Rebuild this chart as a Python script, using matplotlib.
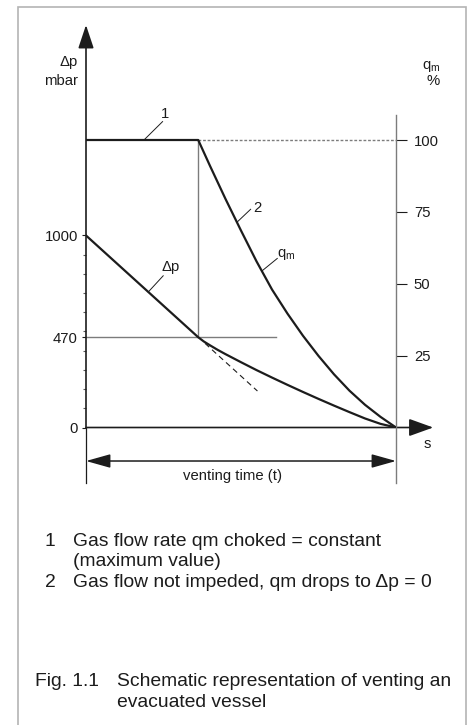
import matplotlib
matplotlib.use("Agg")
import matplotlib.pyplot as plt
from matplotlib.patches import Rectangle

plt.rcParams['font.family'] = ['Liberation Sans', 'DejaVu Sans']
plt.rcParams['mathtext.fontset'] = 'custom'
plt.rcParams['mathtext.rm'] = 'Liberation Sans'
plt.rcParams['mathtext.it'] = 'Liberation Sans'

# ---- data (time in % of venting time) ----
time_dp = [0, 36.2, 38, 40, 42.5, 45, 50, 55, 60, 65, 70, 75, 80, 85, 90, 95, 100]
dp_vals = [1000, 470, 448, 428, 404, 382, 340, 299, 260, 222, 185, 149, 114, 80, 47, 19, 0]

time_qm = [0, 36.2, 40, 45, 50, 55, 60, 65, 70, 75, 80, 85, 90, 95, 100]
qm_vals = [100, 100, 91, 79.5, 68.5, 57.8, 48, 39.6, 31.9, 24.9, 18.5, 12.8, 7.9, 3.7, 0]

t_knee = 36.2
dp_knee = 470
tangent_t = [38.4, 55.3]
tangent_dp = [438, 190]

dp_ticks = [0, 470, 1000]
dp_minor = [100, 200, 300, 400, 500, 600, 700, 800, 900]
qm_ticks = [25, 50, 75, 100]

legend_lines = [("1", "Gas flow rate qm choked = constant"),
                ("", "(maximum value)"),
                ("2", "Gas flow not impeded, qm drops to \u0394p = 0")]
caption = ("Fig. 1.1", ["Schematic representation of venting an", "evacuated vessel"])

# ---- layout ----
W, H = 470, 725
DP_TOP = 2096.0   # left axis value at the top of the axes
Q_TOP = 140.0     # right axis value at the top of the axes
ink = '#1c1c1c'
grey = '#7c7c7c'
fs = 10.7

fig = plt.figure(figsize=(W / 100, H / 100), dpi=100)
fig.add_artist(Rectangle((18 / W, -0.02), 448 / W, (725 - 7) / H + 0.02,
                         transform=fig.transFigure, fill=False,
                         edgecolor='#b4b4b4', lw=1.2))

ax = fig.add_axes([86 / W, (H - 427.5) / H, 310 / W, 402.5 / H])
ax.set_xlim(0, 100)
ax.set_ylim(0, DP_TOP)
ax2 = ax.twinx()
ax2.set_ylim(0, Q_TOP)
for a in (ax, ax2):
    for s in a.spines.values():
        s.set_visible(False)
    a.set_xticks([])
    a.patch.set_visible(False)

ax.set_yticks(dp_ticks)
ax.set_yticklabels([str(v) for v in dp_ticks], fontsize=fs, color=ink)
ax.set_yticks(dp_minor, minor=True)
ax.tick_params(axis='y', which='major', direction='out', length=3.2, width=0.8,
               color=ink, pad=2.6)
ax.tick_params(axis='y', which='minor', direction='out', length=2.4, width=0.8,
               color='#5a5a5a')
ax2.set_yticks(qm_ticks)
ax2.set_yticklabels([str(v) for v in qm_ticks], fontsize=fs, color=ink)
ax2.tick_params(axis='y', direction='out', length=7.9, width=0.8, color=ink, pad=5)

# axes lines with arrows
ax.annotate('', xy=(0, DP_TOP), xytext=(0, 0), annotation_clip=False,
            arrowprops=dict(arrowstyle='-|>,head_length=1.2,head_width=0.4',
                            mutation_scale=12, lw=1.2, color=ink,
                            shrinkA=0, shrinkB=0))
ax.annotate('', xy=(112, 0), xytext=(0, 0), annotation_clip=False,
            arrowprops=dict(arrowstyle='-|>,head_length=1.25,head_width=0.45',
                            mutation_scale=12, lw=1.2, color=ink,
                            shrinkA=0, shrinkB=0))
ax.plot([0, 0], [0, -289], color=ink, lw=0.9, clip_on=False)
ax2.plot([100, 100], [-19.3, 108.7], color=grey, lw=1.0, clip_on=False)

# venting time dimension
ax.annotate('', xy=(0, -174.5), xytext=(100, -174.5), annotation_clip=False,
            arrowprops=dict(arrowstyle='<|-|>,head_length=1.25,head_width=0.35',
                            mutation_scale=12, lw=1.1, color=ink,
                            shrinkA=0, shrinkB=0))
ax.text(47.4, -252, 'venting time (t)', ha='center', va='center',
        fontsize=fs, color=ink)
ax.text(110, -86, 's', ha='center', va='center', fontsize=fs, color=ink)

# construction lines
ax2.plot([t_knee, 100], [100, 100], color=grey, lw=1.0, ls=(0, (2, 1.3)))
ax.plot([t_knee, t_knee], [dp_knee, 100 * DP_TOP / Q_TOP], color=grey, lw=1.0)
ax.plot([0, 61.3], [dp_knee, dp_knee], color=grey, lw=1.0)
ax.plot(tangent_t, tangent_dp, color=ink, lw=0.8, ls=(0, (5, 3.5)))

# curves
ax.plot(time_dp, dp_vals, color=ink, lw=1.6, solid_joinstyle='round')
ax2.plot(time_qm, qm_vals, color=ink, lw=1.6, solid_joinstyle='round')

# curve labels with leader lines
ax2.plot([18.7, 24.7], [100, 106.4], color=ink, lw=0.7)
ax2.text(25.5, 109, '1', ha='center', va='center', fontsize=fs, color=ink)
ax2.plot([48.8, 53.1], [71.5, 75.9], color=ink, lw=0.7)
ax2.text(55.2, 76.2, '2', ha='center', va='center', fontsize=fs, color=ink)
ax.plot([20.1, 24.9], [706, 790], color=ink, lw=0.7)
ax.text(27.4, 835, '\u0394p', ha='center', va='center', fontsize=fs, color=ink)
ax2.plot([56.7, 61.7], [54.4, 58.8], color=ink, lw=0.7)
ax2.text(64.5, 60.2, r'$\mathregular{q_m}$', ha='center', va='center',
         fontsize=fs, color=ink)

# axis titles
ax.text(-2.6, 1901, '\u0394p', ha='right', va='center', fontsize=fs, color=ink)
ax.text(-2.6, 1805, 'mbar', ha='right', va='center', fontsize=fs, color=ink)
ax2.text(114.2, 125.5, r'$\mathregular{q_m}$', ha='right', va='center',
         fontsize=fs, color=ink)
ax2.text(114.2, 120.5, '%', ha='right', va='center', fontsize=fs, color=ink)

# legend and caption (reference uses a condensed face; size chosen to match widths)
lfs = 13.9
base_y = [546, 566, 587]
for (num, txt), y in zip(legend_lines, base_y):
    if num:
        fig.text(45 / W, (H - y) / H, num, fontsize=lfs, color=ink, va='baseline')
    fig.text(73 / W, (H - y) / H, txt, fontsize=lfs, color=ink, va='baseline')

fig.text(35 / W, (H - 686) / H, caption[0], fontsize=lfs, color=ink,
         va='baseline')
for line, y in zip(caption[1], [686, 707]):
    fig.text(117 / W, (H - y) / H, line, fontsize=lfs, color=ink, va='baseline')

fig.savefig('out.png', dpi=100)
